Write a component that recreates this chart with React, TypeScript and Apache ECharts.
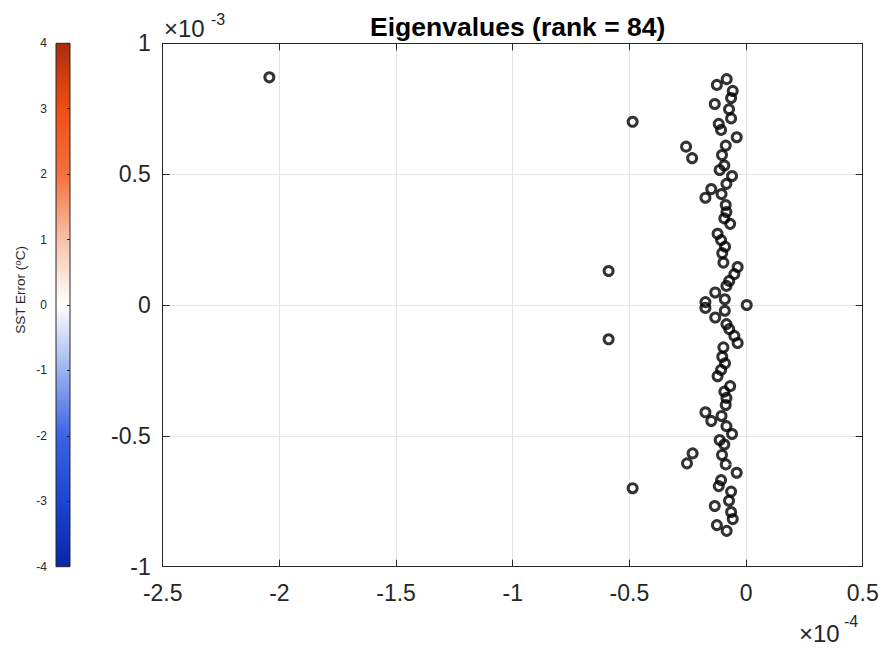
import React, { useEffect, useRef } from "react";
import * as echarts from "echarts";

// Eigenvalues: real part (x10^-4), imaginary part (x10^-3)
const eigRe: number[] = [
  -2.043, -0.486, -0.589, -0.257, -0.231,
  -0.083, -0.125, -0.057, -0.064, -0.134, -0.073, -0.064, -0.117, -0.107, -0.040,
  -0.087, -0.103, -0.093, -0.113, -0.060, -0.084, -0.149, -0.174, -0.105, -0.087,
  -0.084, -0.093, -0.068, -0.122, -0.107, -0.090, -0.102, -0.097, -0.036, -0.050,
  -0.072, -0.084, -0.132, -0.091, -0.174,
  -0.486, -0.589, -0.253, -0.229,
  -0.083, -0.125, -0.057, -0.064, -0.134, -0.073, -0.064, -0.117, -0.107, -0.040,
  -0.087, -0.103, -0.093, -0.113, -0.060, -0.084, -0.149, -0.174, -0.105, -0.087,
  -0.084, -0.093, -0.068, -0.122, -0.107, -0.090, -0.102, -0.097, -0.036, -0.050,
  -0.072, -0.084, -0.132, -0.091, -0.174,
  0.003,
];
const eigIm: number[] = [
  0.870, 0.700, 0.130, 0.605, 0.561,
  0.863, 0.841, 0.818, 0.791, 0.768, 0.748, 0.713, 0.692, 0.669, 0.641,
  0.609, 0.573, 0.533, 0.516, 0.493, 0.463, 0.443, 0.410, 0.424, 0.382,
  0.355, 0.331, 0.310, 0.272, 0.248, 0.223, 0.198, 0.162, 0.145, 0.118,
  0.092, 0.073, 0.048, 0.022, 0.011,
  -0.700, -0.131, -0.605, -0.567,
  -0.863, -0.841, -0.818, -0.791, -0.768, -0.748, -0.713, -0.692, -0.669, -0.641,
  -0.609, -0.573, -0.533, -0.516, -0.493, -0.463, -0.443, -0.410, -0.424, -0.382,
  -0.355, -0.331, -0.310, -0.272, -0.248, -0.223, -0.198, -0.162, -0.145, -0.118,
  -0.092, -0.073, -0.048, -0.022, -0.011,
  0,
];

const xTickLabels: string[] = ["-2.5", "-2", "-1.5", "-1", "-0.5", "0", "0.5"];
const yTickLabels: string[] = ["-1", "-0.5", "0", "0.5", "1"];
const cbTickLabels: string[] = ["-4", "-3", "-2", "-1", "0", "1", "2", "3", "4"];

const titleText = "Eigenvalues (rank = 84)";
const cbLabel = "SST Error (";

const FONT = "'Liberation Sans', Arial, Helvetica, sans-serif";
const AX = "#262626";

const G = { left: 162.7, top: 43.3, right: 887 - 862.7, bottom: 648 - 566.7 };

function lookup(labels: string[], min: number, step: number) {
  return (v: number) => {
    const i = Math.round((v - min) / step);
    return labels[i] ?? String(v);
  };
}

export default function App() {
  const ref = useRef<HTMLDivElement>(null);
  useEffect(() => {
    if (!ref.current) return;
    const chart = echarts.init(ref.current, undefined, { renderer: "svg" });
    const data = eigRe.map((r, i) => [r, eigIm[i]]);
    const boxAxis = {
      axisTick: { show: true, inside: true, length: 7, lineStyle: { color: AX } },
      axisLabel: { show: false },
      splitLine: { show: false },
    };
    chart.setOption({
      animation: false,
      backgroundColor: "#ffffff",
      title: {
        text: titleText,
        left: 512.7,
        top: 8,
        textAlign: "center",
        textStyle: { fontFamily: FONT, fontSize: 26.5, fontWeight: "bold", color: "#000" },
      },
      grid: [
        { ...G, containLabel: false },
        { left: 56, width: 14, top: G.top, bottom: G.bottom, containLabel: false },
      ],
      xAxis: [
        {
          type: "value", gridIndex: 0, min: -2.5, max: 0.5, interval: 0.5, position: "bottom",
          axisLine: { show: true, onZero: false, lineStyle: { color: AX, width: 1 } },
          axisTick: { show: true, inside: true, length: 7, lineStyle: { color: AX } },
          axisLabel: {
            show: true, margin: 15, color: AX, fontFamily: FONT, fontSize: 23,
            formatter: lookup(xTickLabels, -2.5, 0.5),
          },
          splitLine: { show: true, lineStyle: { color: "#e3e3e3", width: 1 } },
        },
        { type: "value", gridIndex: 0, min: -2.5, max: 0.5, interval: 0.5, position: "top", ...boxAxis,
          axisLine: { show: true, onZero: false, lineStyle: { color: AX, width: 1 } } },
        { type: "value", gridIndex: 1, min: 0, max: 1, show: false },
      ],
      yAxis: [
        {
          type: "value", gridIndex: 0, min: -1, max: 1, interval: 0.5, position: "left",
          axisLine: { show: true, onZero: false, lineStyle: { color: AX, width: 1 } },
          axisTick: { show: true, inside: true, length: 7, lineStyle: { color: AX } },
          axisLabel: {
            show: true, margin: 12, color: AX, fontFamily: FONT, fontSize: 23,
            formatter: lookup(yTickLabels, -1, 0.5),
          },
          splitLine: { show: true, lineStyle: { color: "#e3e3e3", width: 1 } },
        },
        { type: "value", gridIndex: 0, min: -1, max: 1, interval: 0.5, position: "right", ...boxAxis,
          axisLine: { show: true, onZero: false, lineStyle: { color: AX, width: 1 } } },
        {
          type: "value", gridIndex: 1, min: -4, max: 4, interval: 1, position: "left",
          axisLine: { show: false },
          axisTick: { show: false },
          axisLabel: {
            show: true, margin: 9, color: AX, fontFamily: FONT, fontSize: 12,
            formatter: lookup(cbTickLabels, -4, 1),
          },
          splitLine: { show: false },
        },
        {
          type: "value", gridIndex: 1, min: -4, max: 4, interval: 1, position: "right",
          axisLine: { show: false },
          axisTick: { show: true, inside: true, length: 3, lineStyle: { color: AX } },
          axisLabel: { show: false },
          splitLine: { show: false },
        },
      ],
      graphic: [
        {
          type: "rect",
          z: -1,
          shape: { x: 56, y: G.top, width: 14, height: 566.7 - G.top },
          style: {
            fill: new echarts.graphic.LinearGradient(0, 0, 0, 1, [
              { offset: 0, color: "#a52d0c" },
              { offset: 0.0625, color: "#d03e10" },
              { offset: 0.125, color: "#ef4d16" },
              { offset: 0.25, color: "#f4713c" },
              { offset: 0.375, color: "#f8c1a9" },
              { offset: 0.5, color: "#ffffff" },
              { offset: 0.625, color: "#9cb1ef" },
              { offset: 0.75, color: "#3a64e4" },
              { offset: 0.875, color: "#1b45d2" },
              { offset: 1, color: "#0a25a8" },
            ]),
            stroke: AX,
            lineWidth: 1,
          },
        },
        {
          type: "text",
          x: 20,
          y: 290,
          rotation: Math.PI / 2,
          style: {
            text: "{a|" + cbLabel + "}{s|o}{a|C)}",
            align: "center",
            verticalAlign: "middle",
            fill: AX,
            rich: {
              a: { fontFamily: FONT, fontSize: 13.5, fill: AX, color: AX },
              s: { fontFamily: FONT, fontSize: 9.5, fill: AX, color: AX, verticalAlign: "top", padding: [0, 0, 6, 0] },
            },
          },
        },
        {
          type: "text", x: 164, y: 28,
          style: { text: "×10", fontFamily: FONT, fontSize: 24, fill: AX, align: "left", verticalAlign: "middle" },
        },
        {
          type: "text", x: 211, y: 19,
          style: { text: "-3", fontFamily: FONT, fontSize: 16, fill: AX, align: "left", verticalAlign: "middle" },
        },
        {
          type: "text", x: 799, y: 633,
          style: { text: "×10", fontFamily: FONT, fontSize: 24, fill: AX, align: "left", verticalAlign: "middle" },
        },
        {
          type: "text", x: 844, y: 621,
          style: { text: "-4", fontFamily: FONT, fontSize: 16, fill: AX, align: "left", verticalAlign: "middle" },
        },
      ],
      series: [
        {
          type: "scatter",
          xAxisIndex: 0,
          yAxisIndex: 0,
          data,
          symbol: "circle",
          symbolSize: 9,
          silent: true,
          itemStyle: { color: "rgba(0,0,0,0)", borderColor: "#000", borderWidth: 3 },
        },
      ],
    });
    return () => chart.dispose();
  }, []);
  return (
    <div
      ref={ref}
      style={{ position: "fixed", left: 0, top: 0, width: 887, height: 648, background: "#fff" }}
    />
  );
}
